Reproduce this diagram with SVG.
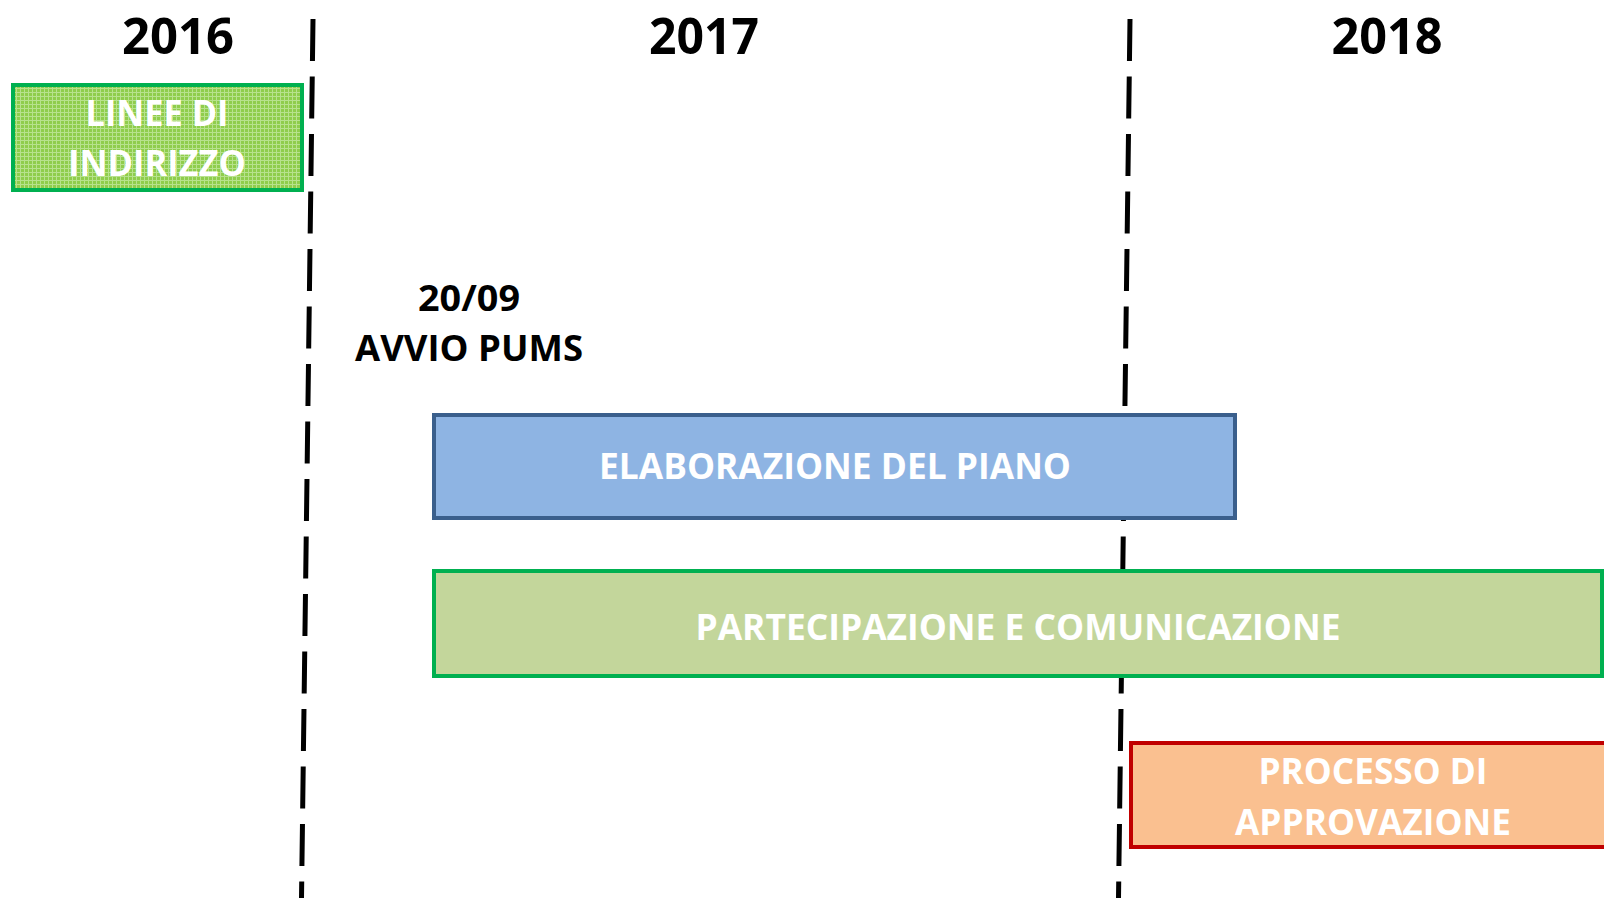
<svg xmlns="http://www.w3.org/2000/svg" width="1604" height="898" viewBox="0 0 1604 898">
  <style>
    .year { font-family: "Open Sans", "Liberation Sans", sans-serif; font-weight: bold; font-size: 50px; fill: #000; text-anchor: middle; }
    .lbl { font-family: "Open Sans", "Liberation Sans", sans-serif; font-weight: bold; font-size: 36px; text-anchor: middle; }
    .w { fill: #ffffff; }
    .k { fill: #000000; }
    .div { stroke: #000; stroke-width: 5; stroke-dasharray: 42 15.5; fill: none; }
  </style>
  <defs>
    <pattern id="grid" width="4" height="4" patternUnits="userSpaceOnUse">
      <rect width="4" height="4" fill="#8FCD4C"/>
      <path d="M0 0.5H4M0.5 0V4" stroke="#B7E28D" stroke-width="1"/>
    </pattern>
  </defs>
  <rect width="1604" height="898" fill="#ffffff"/>

  <g id="dividers">
    <line class="div" x1="313" y1="19" x2="301.5" y2="898"/>
    <line class="div" x1="1130" y1="19" x2="1118.5" y2="898"/>
  </g>

  <g id="years">
    <text class="year" x="178" y="54" textLength="112" lengthAdjust="spacingAndGlyphs">2016</text>
    <text class="year" x="704" y="54" textLength="110" lengthAdjust="spacingAndGlyphs">2017</text>
    <text class="year" x="1387" y="54" textLength="111" lengthAdjust="spacingAndGlyphs">2018</text>
  </g>

  <g id="linee-di-indirizzo">
    <rect x="13" y="85" width="289" height="105" fill="url(#grid)" stroke="#00B050" stroke-width="4"/>
    <text class="lbl w" x="157" y="126" font-size="36" textLength="143" lengthAdjust="spacingAndGlyphs">LINEE DI</text>
    <text class="lbl w" x="157" y="176" font-size="36" textLength="178" lengthAdjust="spacingAndGlyphs">INDIRIZZO</text>
  </g>

  <g id="avvio-pums">
    <text class="lbl k" x="469" y="311" font-size="37" textLength="102" lengthAdjust="spacingAndGlyphs">20/09</text>
    <text class="lbl k" x="469" y="361" font-size="37" textLength="228" lengthAdjust="spacingAndGlyphs">AVVIO PUMS</text>
  </g>

  <g id="elaborazione">
    <rect x="434" y="415" width="801" height="103" fill="#8EB4E3" stroke="#3A5F8C" stroke-width="4"/>
    <text class="lbl w" x="835" y="479" textLength="472" lengthAdjust="spacingAndGlyphs">ELABORAZIONE DEL PIANO</text>
  </g>

  <g id="partecipazione">
    <rect x="434" y="571" width="1168" height="105" fill="#C3D69B" stroke="#00B050" stroke-width="4"/>
    <text class="lbl w" x="1018" y="640" textLength="645" lengthAdjust="spacingAndGlyphs">PARTECIPAZIONE E COMUNICAZIONE</text>
  </g>

  <g id="approvazione">
    <rect x="1131" y="743" width="600" height="104" fill="#FAC090" stroke="#C00000" stroke-width="4"/>
    <text class="lbl w" x="1373" y="784" textLength="229" lengthAdjust="spacingAndGlyphs">PROCESSO DI</text>
    <text class="lbl w" x="1373" y="835" textLength="276" lengthAdjust="spacingAndGlyphs">APPROVAZIONE</text>
  </g>
</svg>
